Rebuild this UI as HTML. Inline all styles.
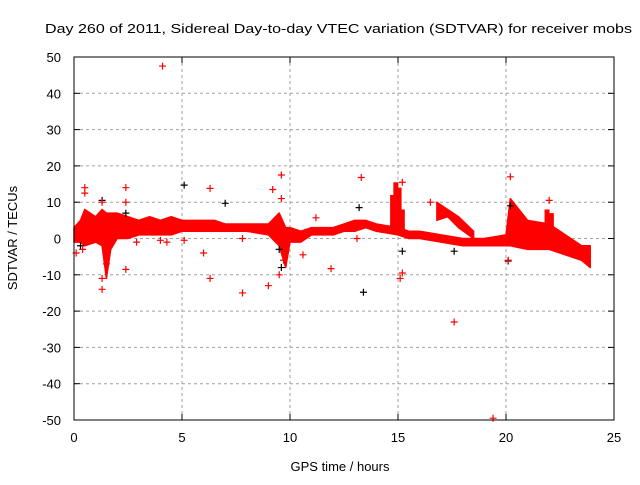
<!DOCTYPE html>
<html><head><meta charset="utf-8"><style>
body{margin:0;background:#fff}
svg text{font-family:"Liberation Sans",sans-serif;font-size:13px;fill:#000}
</style></head><body>
<svg id="c" width="640" height="480" xmlns="http://www.w3.org/2000/svg">
<text x="45" y="33" font-size="14" textLength="587" lengthAdjust="spacingAndGlyphs">Day 260 of 2011, Sidereal Day-to-day VTEC variation (SDTVAR) for receiver mobs</text>
<text x="340" y="471" text-anchor="middle" font-size="14">GPS time / hours</text>
<text transform="translate(17,238) rotate(-90)" text-anchor="middle" font-size="14">SDTVAR / TECUs</text>
<g id="grid"></g><g id="marks"></g>
<rect x="74" y="57" width="540" height="363" fill="none" stroke="#000" stroke-width="1"/>
</svg>
<script>
const xTicks=[0,5,10,15,20,25];
const yTicks=[50,40,30,20,10,0,-10,-20,-30,-40,-50];
const bandT=[0,0.3,0.5,1.0,1.3,1.5,1.7,2.0,2.5,3.0,3.5,4.0,4.5,5.0,5.5,6.0,6.5,7.0,8.0,9.0,9.5,9.8,10.0,10.5,11.0,12.0,12.5,13.0,13.5,14.0,15.0,15.5,16.0,17.0,18.0,18.5,19.0,20.0,20.2,21.0,22.0,22.5,23.0,23.5,23.9];
const bandHi=[3,5,8,6,8,7,7,7,6,5,6,5,6,5,5,5,5,4,4,4,7,3,3,2,3,3,4,5,5,4,3,2,2,1,0,0,0,1,11,5,4,2,0,-2,-2];
const bandLo=[-1,-1,-2,-1,-2,-11,-3,0,0,1,1,1,1,2,2,2,2,2,2,1,-2,-8,-1,-1,1,1,2,2,3,2,1,0,0,-1,-2,-2,-2,-2,-2,-3,-3,-4,-5,-6,-8];
const b2T=[16.8,17.3,17.8,18.5];
const b2Hi=[10,8,6,2];
const b2Lo=[5,6,3,0];
const spikeT=[14.75,14.9,15.05,15.2,21.9,22.1];
const spikeHi=[12,15.5,14,8,8,7];
const spikeLo=[3,3,2,2,4,3];
const redX=[4.1,0.5,0.5,1.3,2.4,2.4,1.3,1.3,1.5,2.4,2.9,4.0,4.3,5.1,6.3,6.3,6.0,7.8,7.8,9.0,9.2,9.6,9.6,9.5,9.7,10.6,11.2,11.9,13.3,13.1,15.2,15.1,15.2,17.6,19.4,20.2,20.1,22,16.5,0.1,0.4];
const redY=[47.5,14,12.5,10,14,10,-11,-14,-7,-8.5,-1,-0.5,-1,-0.5,13.8,-11,-4,-15,0,-13,13.5,17.5,11,-10,-6,-4.5,5.7,-8.3,16.8,0,15.5,-11,-9.5,-23,-49.5,17,-6,10.5,10,-4,-3];
const blkX=[5.1,7.0,9.6,9.5,13.2,13.4,15.2,17.6,20.1,20.2,1.3,2.4,0.3];
const blkY=[14.7,9.7,-8,-3,8.5,-14.8,-3.5,-3.5,-6.2,9,10.5,7,-2];
const NS="http://www.w3.org/2000/svg";
const sx=t=>74+t*21.6, sy=v=>238.5-v*3.63;
const grid=document.getElementById('grid'),marks=document.getElementById('marks');
function mk(tag,a,p){const e=document.createElementNS(NS,tag);for(const k in a)e.setAttribute(k,a[k]);p.appendChild(e);return e;}
xTicks.forEach(t=>{
 if(t>0&&t<25){const l=mk('line',{x1:sx(t),x2:sx(t),y1:57,y2:420,stroke:'#a0a0a0','stroke-dasharray':'3,3'},grid);
 
 }
 mk('line',{x1:sx(t),x2:sx(t),y1:420,y2:414,stroke:'#000'},grid);
 mk('line',{x1:sx(t),x2:sx(t),y1:57,y2:63,stroke:'#000'},grid);
 const tx=mk('text',{x:sx(t),y:442,'text-anchor':'middle'},grid);tx.textContent=t;
 
 
});
yTicks.forEach(v=>{
 if(v>-50&&v<50){const l=mk('line',{x1:74,x2:614,y1:sy(v),y2:sy(v),stroke:'#a0a0a0','stroke-dasharray':'3,3'},grid);
 
 }
 mk('line',{x1:74,x2:80,y1:sy(v),y2:sy(v),stroke:'#000'},grid);
 mk('line',{x1:608,x2:614,y1:sy(v),y2:sy(v),stroke:'#000'},grid);
 const tx=mk('text',{x:61,y:sy(v)+5,'text-anchor':'end'},grid);tx.textContent=v;
 
 
});
function band(T,H,L,name){
 let pts=T.map((t,i)=>sx(t)+','+sy(H[i]));
 for(let i=T.length-1;i>=0;i--)pts.push(sx(T[i])+','+sy(L[i]));
 const p=mk('polygon',{points:pts.join(' '),fill:'#f00',stroke:'#f00','stroke-width':1.5,'stroke-linejoin':'round'},marks);
 
 
}
band(bandT,bandHi,bandLo,'sdtvar-main-band');
band(b2T,b2Hi,b2Lo,'sdtvar-secondary-band');
for(let i=0;i<spikeT.length;i+=1){
 const l=mk('line',{x1:sx(spikeT[i]),x2:sx(spikeT[i]),y1:sy(spikeHi[i]),y2:sy(spikeLo[i]),stroke:'#f00','stroke-width':5},marks);
 
 
}
function cross(t,v,c,name){
 const x=sx(t),y=sy(v);
 const g=mk('path',{d:`M${x-3.5},${y}h7M${x},${y-3.5}v7`,stroke:c,'stroke-width':1.2,fill:'none'},marks);
 
 
}
blkX.forEach((t,i)=>cross(t,blkY[i],'#000','outlier-point-black'));
redX.forEach((t,i)=>cross(t,redY[i],'#f00','outlier-point-red'));
</script>
</body></html>
